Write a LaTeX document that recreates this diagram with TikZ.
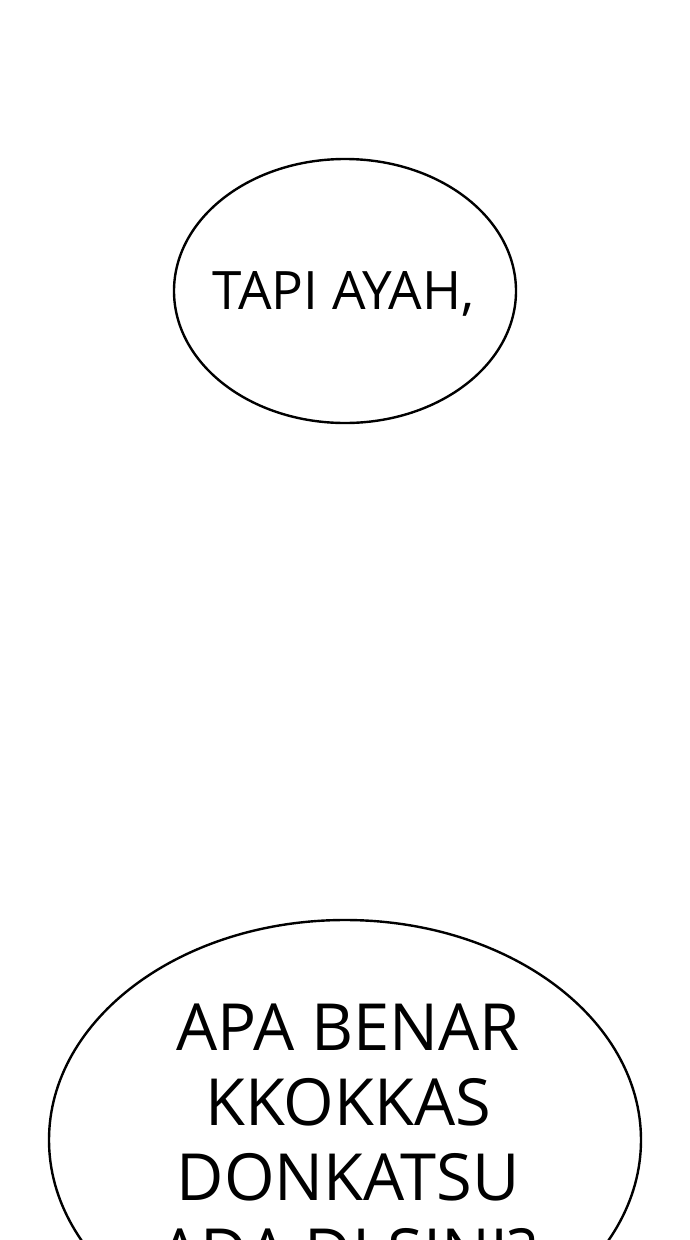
\documentclass[tikz,border=0pt]{standalone}
\usepackage{fontspec}
\setmainfont{Open Sans}
\usetikzlibrary{shapes.geometric}
\tikzset{
  bubble/.style={draw=black, line width=2.4pt, ellipse, inner sep=0pt, fill=white},
  smalltxt/.style={font=\fontsize{53}{63}\selectfont, inner sep=0pt, anchor=base, text=black},
  bigtxt/.style={font=\fontsize{65}{75}\selectfont, inner sep=0pt, anchor=base, text=black}
}
\begin{document}
\begin{tikzpicture}[x=1pt,y=-1pt]
\useasboundingbox (0,0) rectangle (690,1240);
\clip (0,0) rectangle (690,1240);
\fill[white] (0,0) rectangle (690,1240);
\node[bubble, minimum width=342pt, minimum height=264pt] (b1) at (345,291) {};
\node[smalltxt] (t1) at (343.5,309) {TAPI AYAH,};
\node[bubble, minimum width=592pt, minimum height=440pt] (b2) at (345,1140) {};
\node[bigtxt] (l1) at (348,1050) {APA BENAR};
\node[bigtxt] (l2) at (348,1125) {KKOKKAS};
\node[bigtxt] (l3) at (348,1200) {DONKATSU};
\node[bigtxt] (l4) at (348,1275) {ADA DI SINI?};
\end{tikzpicture}
\end{document}
